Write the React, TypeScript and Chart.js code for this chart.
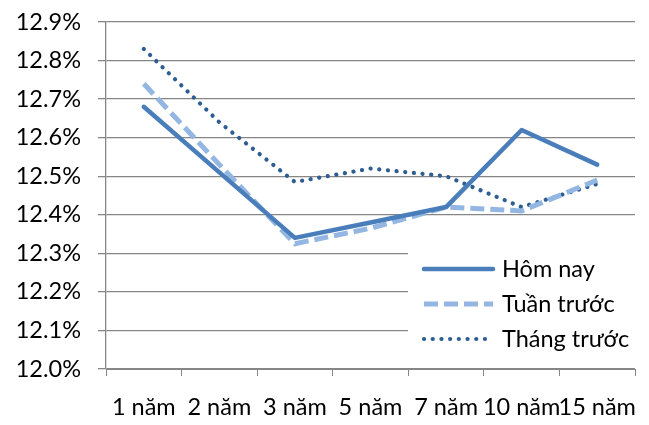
import React, { useEffect, useRef } from "react";
import { Chart, registerables } from "chart.js";

Chart.register(...registerables);

const categories = ["1 năm", "2 năm", "3 năm", "5 năm", "7 năm", "10 năm", "15 năm"];
const homNay = [12.68, 12.51, 12.34, 12.38, 12.42, 12.62, 12.53];
const tuanTruoc = [12.74, 12.53, 12.325, 12.365, 12.42, 12.41, 12.49];
const thangTruoc = [12.83, 12.64, 12.485, 12.52, 12.5, 12.42, 12.48];
const seriesNames = ["Hôm nay", "Tuần trước", "Tháng trước"];

const FONT = "Lato, 'Open Sans', sans-serif";
const FONT_SIZE = 23.5;

const insideLegend = {
  id: "insideLegend",
  afterDraw(chart: any) {
    const ctx = chart.ctx;
    const area = chart.chartArea;
    const x0 = area.right - 227;
    const y0 = area.bottom - 124;
    ctx.save();
    ctx.fillStyle = "#ffffff";
    ctx.fillRect(x0, y0, 232, 112);
    chart.data.datasets.forEach((ds: any, i: number) => {
      const y = y0 + 24 + i * 35;
      ctx.beginPath();
      ctx.strokeStyle = ds.borderColor;
      ctx.lineWidth = ds.borderWidth;
      ctx.lineCap = ds.borderCapStyle || "butt";
      ctx.setLineDash(ds.borderDash || []);
      ctx.moveTo(x0 + 16, y);
      ctx.lineTo(x0 + 85, y);
      ctx.stroke();
      ctx.setLineDash([]);
      ctx.fillStyle = "#000000";
      ctx.font = `${FONT_SIZE}px ${FONT}`;
      ctx.textBaseline = "middle";
      ctx.textAlign = "left";
      ctx.fillText(ds.label, x0 + 94, y);
    });
    ctx.restore();
  },
};

export default function App() {
  const ref = useRef<HTMLCanvasElement | null>(null);
  useEffect(() => {
    document.body.style.margin = "0";
    const chart = new Chart(ref.current as HTMLCanvasElement, {
      type: "line",
      data: {
        labels: categories,
        datasets: [
          {
            label: seriesNames[0],
            data: homNay,
            borderColor: "#4A7EBB",
            borderWidth: 4.5,
            pointRadius: 0,
            tension: 0,
            borderCapStyle: "round",
            borderJoinStyle: "round",
          },
          {
            label: seriesNames[1],
            data: tuanTruoc,
            borderColor: "#93B6E2",
            borderWidth: 5,
            borderDash: [14, 6],
            pointRadius: 0,
            tension: 0,
            borderCapStyle: "butt",
          },
          {
            label: seriesNames[2],
            data: thangTruoc,
            borderColor: "#2E5D92",
            borderWidth: 4.2,
            borderDash: [0.1, 8.6],
            borderCapStyle: "round",
            pointRadius: 0,
            tension: 0,
          },
        ],
      },
      options: {
        animation: false,
        responsive: false,
        maintainAspectRatio: false,
        layout: { padding: { top: 22, right: 14, left: 0, bottom: 0 } },
        plugins: {
          legend: { display: false },
          tooltip: { enabled: false },
        },
        scales: {
          x: {
            offset: true,
            grid: {
              offset: true,
              drawOnChartArea: false,
              drawTicks: true,
              tickLength: 7,
              color: "#868686",
            },
            border: { display: true, color: "#868686", width: 1 },
            ticks: {
              color: "#000",
              font: { family: FONT, size: FONT_SIZE },
              padding: 17,
              maxRotation: 0,
              autoSkip: false,
            },
            afterFit(scale: any) {
              scale.height = 56;
              scale.paddingLeft = 0;
              scale.paddingRight = 0;
            },
          },
          y: {
            min: 12.0,
            max: 12.9,
            ticks: {
              stepSize: 0.1,
              color: "#000",
              font: { family: FONT, size: FONT_SIZE },
              padding: 17,
              callback: (v: any) => Number(v).toFixed(1) + "%",
            },
            grid: {
              color: "#868686",
              lineWidth: 1.3,
              tickLength: 8,
            },
            border: { display: true, color: "#868686", width: 1.3 },
            afterFit(scale: any) {
              scale.width = 106;
              scale.paddingTop = 0;
              scale.paddingBottom = 0;
            },
          },
        },
      },
      plugins: [insideLegend],
    });
    return () => chart.destroy();
  }, []);
  return (
    <div style={{ width: 649, height: 425, background: "#fff" }}>
      <canvas ref={ref} width={649} height={425} style={{ display: "block" }} />
    </div>
  );
}
